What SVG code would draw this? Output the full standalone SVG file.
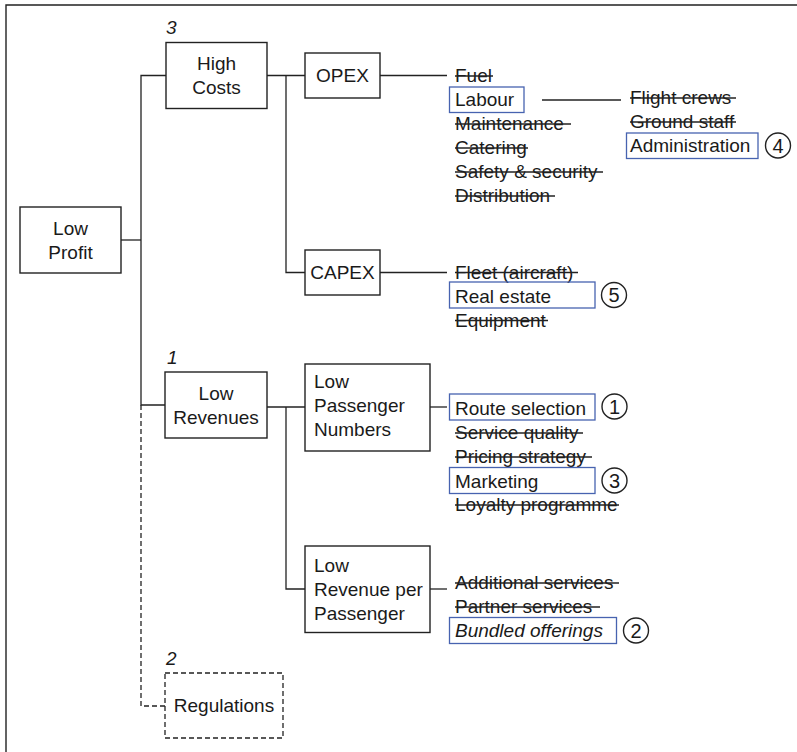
<svg xmlns="http://www.w3.org/2000/svg" width="797" height="752" viewBox="0 0 797 752">
  <style>
    text { font-family: "Liberation Sans", Arial, sans-serif; font-size: 19px; fill: #1a1a1a; }
    .c { text-anchor: middle; }
    .num { font-style: italic; }
    .box { fill: #fff; stroke: #222; stroke-width: 1.4; }
    .dbox { fill: #fff; stroke: #222; stroke-width: 1.3; stroke-dasharray: 5 3; }
    .link { fill: none; stroke: #222; stroke-width: 1.3; }
    .dash { fill: none; stroke: #222; stroke-width: 1.3; stroke-dasharray: 5 3; }
    .strike { stroke: #222; stroke-width: 1.3; }
    .hl { fill: none; stroke: #4763b0; stroke-width: 1.3; }
    .ring { fill: #fff; stroke: #222; stroke-width: 1.4; }
    .rnum { font-size: 20px; text-anchor: middle; }
  </style>

  <!-- frame (top and left edges) -->
  <path d="M6 752 V5 H797" fill="none" stroke="#222" stroke-width="1.4"/>

  <!-- connectors -->
  <g id="connectors">
    <path class="link" d="M121 240 H141"/>
    <path class="link" d="M166 75.5 H141 V405 H165"/>
    <path class="dash" d="M141 405 V706 H165"/>
    <path class="link" d="M267 75.5 H305"/>
    <path class="link" d="M286 75.5 V272.5 H305"/>
    <path class="link" d="M380 75.5 H447"/>
    <path class="link" d="M542 100 H621"/>
    <path class="link" d="M380 272.5 H447"/>
    <path class="link" d="M267 407 H305"/>
    <path class="link" d="M286 407 V589 H305"/>
    <path class="link" d="M430 407 H447"/>
    <path class="link" d="M430 589 H447"/>
  </g>

  <!-- tree nodes -->
  <g id="low-profit">
    <rect class="box" x="20" y="207" width="101" height="66"/>
    <text class="c" x="70.5" y="235">Low</text>
    <text class="c" x="70.5" y="259">Profit</text>
  </g>

  <g id="high-costs">
    <text class="num" x="166" y="34">3</text>
    <rect class="box" x="166" y="42.5" width="101" height="66"/>
    <text class="c" x="216.5" y="70">High</text>
    <text class="c" x="216.5" y="94">Costs</text>
  </g>

  <g id="opex">
    <rect class="box" x="305" y="53" width="75" height="45"/>
    <text class="c" x="342.5" y="82">OPEX</text>
  </g>

  <g id="capex">
    <rect class="box" x="305" y="250" width="75" height="45"/>
    <text class="c" x="342.5" y="279">CAPEX</text>
  </g>

  <g id="low-revenues">
    <text class="num" x="167" y="364">1</text>
    <rect class="box" x="165" y="372" width="102" height="66"/>
    <text class="c" x="216" y="400">Low</text>
    <text class="c" x="216" y="424">Revenues</text>
  </g>

  <g id="low-passenger-numbers">
    <rect class="box" x="305" y="364" width="125" height="87"/>
    <text x="314" y="388">Low</text>
    <text x="314" y="412">Passenger</text>
    <text x="314" y="436">Numbers</text>
  </g>

  <g id="low-revenue-per-passenger">
    <rect class="box" x="305" y="546" width="125" height="86.5"/>
    <text x="314" y="572">Low</text>
    <text x="314" y="596">Revenue per</text>
    <text x="314" y="620">Passenger</text>
  </g>

  <g id="regulations">
    <text class="num" x="166" y="665">2</text>
    <rect class="dbox" x="165" y="673" width="118" height="65"/>
    <text class="c" x="224" y="712">Regulations</text>
  </g>

  <!-- OPEX items -->
  <g id="opex-items">
    <text x="455" y="82">Fuel</text>
    <line class="strike" x1="455" y1="76" x2="493" y2="76"/>
    <rect class="hl" x="449.5" y="87" width="74.5" height="25.5"/>
    <text x="455" y="106">Labour</text>
    <text x="455" y="130">Maintenance</text>
    <line class="strike" x1="455" y1="124" x2="571" y2="124"/>
    <text x="455" y="154">Catering</text>
    <line class="strike" x1="455" y1="148" x2="528" y2="148"/>
    <text x="455" y="178">Safety &amp; security</text>
    <line class="strike" x1="455" y1="172" x2="603" y2="172"/>
    <text x="455" y="202">Distribution</text>
    <line class="strike" x1="455" y1="196" x2="555" y2="196"/>
  </g>

  <!-- labour items -->
  <g id="labour-items">
    <text x="630" y="104">Flight crews</text>
    <line class="strike" x1="630" y1="98" x2="736" y2="98"/>
    <text x="630" y="128">Ground staff</text>
    <line class="strike" x1="630" y1="122" x2="736" y2="122"/>
    <rect class="hl" x="626.5" y="133" width="131.5" height="25.5"/>
    <text x="630" y="152">Administration</text>
    <circle class="ring" cx="778" cy="145.5" r="12.5"/>
    <text class="rnum" x="778" y="152.5">4</text>
  </g>

  <!-- CAPEX items -->
  <g id="capex-items">
    <text x="455" y="278.5">Fleet (aircraft)</text>
    <line class="strike" x1="455" y1="272.5" x2="578" y2="272.5"/>
    <rect class="hl" x="449.5" y="282" width="145.5" height="26"/>
    <text x="455" y="302.5">Real estate</text>
    <circle class="ring" cx="614" cy="295" r="12.5"/>
    <text class="rnum" x="614" y="302">5</text>
    <text x="455" y="326.5">Equipment</text>
    <line class="strike" x1="455" y1="320.5" x2="548" y2="320.5"/>
  </g>

  <!-- passenger-number items -->
  <g id="passenger-items">
    <rect class="hl" x="449.5" y="394" width="145.5" height="26"/>
    <text x="455" y="414.5">Route selection</text>
    <circle class="ring" cx="614.5" cy="406.5" r="12.5"/>
    <text class="rnum" x="614.5" y="413.5">1</text>
    <text x="455" y="439">Service quality</text>
    <line class="strike" x1="455" y1="433" x2="583" y2="433"/>
    <text x="455" y="463">Pricing strategy</text>
    <line class="strike" x1="455" y1="457" x2="592" y2="457"/>
    <rect class="hl" x="449.5" y="467.5" width="145.5" height="26"/>
    <text x="455" y="487.5">Marketing</text>
    <circle class="ring" cx="614.5" cy="480.5" r="12.5"/>
    <text class="rnum" x="614.5" y="487.5">3</text>
    <text x="455" y="511">Loyalty programme</text>
    <line class="strike" x1="455" y1="505" x2="619" y2="505"/>
  </g>

  <!-- revenue-per-passenger items -->
  <g id="revenue-items">
    <text x="455" y="589">Additional services</text>
    <line class="strike" x1="455" y1="583" x2="619" y2="583"/>
    <text x="455" y="613">Partner services</text>
    <line class="strike" x1="455" y1="607" x2="600" y2="607"/>
    <rect class="hl" x="449.5" y="617.5" width="167" height="26"/>
    <text class="num" x="455" y="637">Bundled offerings</text>
    <circle class="ring" cx="636" cy="630.5" r="12.5"/>
    <text class="rnum" x="636" y="637.5">2</text>
  </g>
</svg>
